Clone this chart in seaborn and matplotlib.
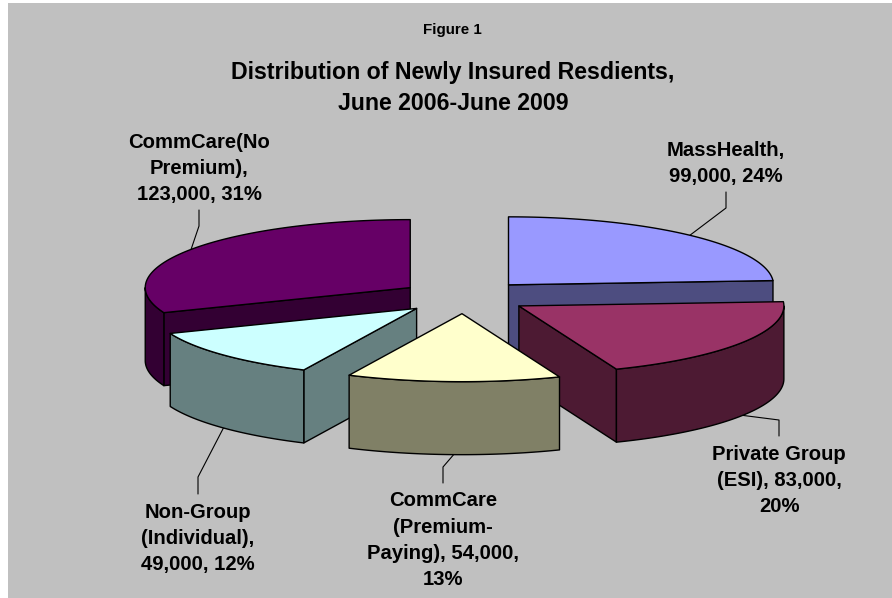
import numpy as np
import matplotlib
matplotlib.use("Agg")
import matplotlib.pyplot as plt
from matplotlib.patches import Polygon
import seaborn as sns

# Data
categories = ["MassHealth", "Private Group (ESI)", "CommCare (Premium-Paying)",
              "Non-Group (Individual)", "CommCare(No Premium)"]
values = [99000, 83000, 54000, 49000, 123000]
percents = [24, 20, 13, 12, 31]
label_templates = [
    "MassHealth,\n{v:,}, {p}%",
    "Private Group\n(ESI), {v:,},\n{p}%",
    "CommCare\n(Premium-\nPaying), {v:,},\n{p}%",
    "Non-Group\n(Individual),\n{v:,}, {p}%",
    "CommCare(No\nPremium),\n{v:,}, {p}%",
]
top_colors = ["#9999FF", "#993366", "#FFFFCC", "#CCFFFF", "#660066"]

# Layout of the fake 3D pie, in pixels
W, H = 892, 598
CX, CY = 464, 297
RX, RY = 265, 68
DEPTH = 73
EXPLODE = 65
draw_order = [0, 4, 1, 3, 2]

# label centre x, last baseline y, elbow y, leader end y
label_pos = [
    (726, 182, 208, 192),
    (779, 512, 420, 436),
    (443, 585, 467, 483),
    (198, 570, 477, 494),
    (199, 200, 226, 210),
]

sns.set_theme(style="white")
plt.rcParams["font.family"] = ["Liberation Sans", "DejaVu Sans"]
palette = sns.color_palette(top_colors)
side_colors = [tuple(c * 0.5 for c in col) for col in palette]


def arc(cx, cy, a0, a1, dy=0):
    t = np.radians(np.linspace(a0, a1, 80))
    return np.column_stack([cx + RX * np.sin(t), cy - RY * np.cos(t) + dy])


def draw_slice(ax, cx, cy, a0, a1, top, side):
    kw = dict(edgecolor="black", linewidth=1.0, joinstyle="round")
    # radial faces that look towards the viewer
    for ang, visible in ((a0, np.sin(np.radians(a0)) < -1e-6), (a1, np.sin(np.radians(a1)) > 1e-6)):
        if visible:
            p = arc(cx, cy, ang, ang)[0]
            ax.add_patch(Polygon([(cx, cy), p, (p[0], p[1] + DEPTH), (cx, cy + DEPTH)],
                                 facecolor=side, **kw))
    # outer wall, front half only
    f0, f1 = max(a0, 90), min(a1, 270)
    if f1 > f0:
        upper = arc(cx, cy, f0, f1)
        lower = arc(cx, cy, f0, f1, DEPTH)[::-1]
        ax.add_patch(Polygon(np.vstack([upper, lower]), facecolor=side, **kw))
    ax.add_patch(Polygon(np.vstack([[(cx, cy)], arc(cx, cy, a0, a1)]), facecolor=top, **kw))


fig = plt.figure(figsize=(W / 100, H / 100), dpi=100, facecolor="white")
ax = fig.add_axes([0, 0, 1, 1])
ax.set_xlim(0, W)
ax.set_ylim(H, 0)
ax.axis("off")
fig.patches.append(plt.Rectangle((8 / W, 0), 1 - 8 / W, 1 - 3 / H, transform=fig.transFigure,
                                 facecolor="#C0C0C0", edgecolor="none", zorder=-1))

edges = np.cumsum([0] + percents) * 3.6
mids = (edges[:-1] + edges[1:]) / 2
centers = [(CX + EXPLODE * np.sin(np.radians(m)),
            CY - EXPLODE * RY / RX * np.cos(np.radians(m))) for m in mids]

for i in draw_order:
    draw_slice(ax, centers[i][0], centers[i][1], edges[i], edges[i + 1], palette[i], side_colors[i])

# leader lines and labels
for i in range(len(categories)):
    lx, ly, elbow_y, end_y = label_pos[i]
    p = arc(centers[i][0], centers[i][1], mids[i], mids[i])[0]
    if 90 < mids[i] < 270:
        p = p + [0, DEPTH]
    ax.plot([p[0], lx, lx], [p[1], elbow_y, end_y], color="black", lw=0.8, zorder=0.5)
    ax.text(lx, ly, label_templates[i].format(v=values[i], p=percents[i]), ha="center", va="baseline",
            fontsize=14.6, fontweight="bold", color="black", linespacing=1.48)

ax.text(452.5, 34, "Figure 1", ha="center", va="baseline", fontsize=10.9, fontweight="bold", color="black")
ax.text(453, 110, "Distribution of Newly Insured Resdients,\nJune 2006-June 2009", ha="center", va="baseline",
        fontsize=16.7, fontweight="bold", color="black", linespacing=1.457)

fig.savefig("out.png", dpi=100, facecolor="white")
